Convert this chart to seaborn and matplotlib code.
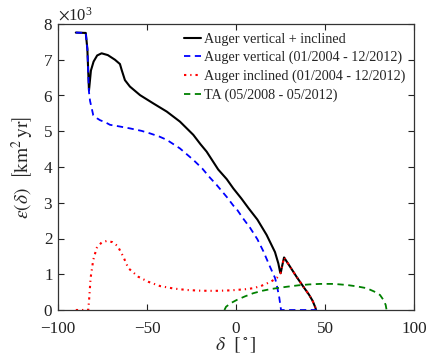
import numpy as np
import pandas as pd
import matplotlib
matplotlib.use("Agg")
import matplotlib.pyplot as plt
import seaborn as sns
from matplotlib.ticker import ScalarFormatter

# ---- data (declination in degrees, exposure in km^2 yr) ----
total_dec = [-90, -84.4, -83.5, -82.6, -81.5, -80, -78, -75.5, -72, -68, -65.2, -64.2,
             -62.4, -59.6, -53.9, -46.5, -38.9, -31.5, -24, -20, -16.5, -10, -5.2, -1.5,
             3, 7, 12, 17.2, 21.9, 23.8, 24.7, 25.1, 26, 27, 30, 34, 38, 41, 43, 44.5, 45]
total_val = [7760, 7750, 7300, 6140, 6700, 6950, 7120, 7180, 7130, 7000, 6880, 6710,
             6430, 6250, 6010, 5780, 5550, 5270, 4900, 4640, 4430, 3930, 3660, 3400,
             3120, 2850, 2530, 2100, 1620, 1300, 1080, 1030, 1250, 1470, 1240, 930, 640,
             430, 260, 80, 0]

vert_dec = [-90, -84.4, -83.5, -82.6, -82, -80.2, -78, -76.4, -73, -70.8, -65, -59.6,
            -53, -48.3, -43, -38.9, -31.5, -24, -19, -14.6, -10.9, -5, -1.5, 0, 4, 7.9,
            12, 15.3, 19.1, 21.9, 22.9, 24.3, 25.3, 30, 35, 40, 45.3]
vert_val = [7760, 7750, 7300, 6100, 5850, 5450, 5360, 5310, 5240, 5180, 5130, 5080,
            5010, 4940, 4850, 4760, 4520, 4200, 3960, 3700, 3500, 3150, 2920, 2850,
            2560, 2300, 1980, 1650, 1210, 900, 700, 350, 0, 0, 0, 0, 0]

incl_dec = [-90, -83, -82.4, -81.7, -80.2, -78.3, -75.5, -72.7, -69.5, -66.5, -63.3,
            -60.5, -54.9, -49.3, -42.7, -35, -27.7, -20, -12, -5, 0, 5, 9.7, 14, 19.5,
            23, 25, 27, 30, 34, 38, 41, 43, 44.5, 45]
incl_val = [0, 0, 370, 890, 1400, 1730, 1890, 1930, 1900, 1790, 1490,
            1170, 930, 790, 670, 600, 560, 540, 535, 545, 560, 580, 610, 670, 790,
            900, 1030, 1470, 1240, 930, 640, 430, 260, 80, 0]

ta_dec = [-6.5, -5.6, -3, 0.4, 5, 9.7, 15, 20, 28.5, 35, 41, 47.2, 55, 62.2, 68, 73.4,
          77.5, 80.9, 83, 84.1, 84.6]
ta_val = [0, 90, 190, 280, 380, 470, 540, 590, 650, 690, 715, 730, 730, 700, 660, 610,
          520, 420, 270, 140, 0]

labels = ["Auger vertical + inclined",
          "Auger vertical (01/2004 - 12/2012)",
          "Auger inclined (01/2004 - 12/2012)",
          "TA (05/2008 - 05/2012)"]

sns.set_style("ticks")
plt.rcParams["font.family"] = ["Liberation Serif", "DejaVu Serif"]
plt.rcParams["mathtext.fontset"] = "stix"
plt.rcParams["axes.unicode_minus"] = True

fig = plt.figure(figsize=(4.28, 3.58), dpi=100)
ax = fig.add_axes([58/428, 48/358, 356/428, 286/358])

series = [
    (total_dec, total_val, labels[0], "#000000", "-", 1.5),
    (vert_dec, vert_val, labels[1], "#0000ff", (0, (3.5, 2.5)), 1.3),
    (incl_dec, incl_val, labels[2], "#ff0000", (0, (1.1, 1.9, 0.6, 1.9)), 1.5),
    (ta_dec, ta_val, labels[3], "#008000", (0, (3.5, 2.5)), 1.3),
]
for xs, ys, lab, col, ls, lw in series:
    df = pd.DataFrame({"dec": xs, "exp": ys})
    sns.lineplot(data=df, x="dec", y="exp", ax=ax, color=col, linestyle=ls,
                 linewidth=lw, label=lab, estimator=None, sort=False)

ax.set_xlim(-100, 100)
ax.set_ylim(0, 8000)
ax.set_xticks([-100, -50, 0, 50, 100])
ax.set_yticks(np.arange(0, 8001, 1000))
fmt = ScalarFormatter(useMathText=True)
fmt.set_powerlimits((3, 3))
ax.yaxis.set_major_formatter(fmt)
ax.yaxis.get_offset_text().set_fontsize(12)

ax.tick_params(direction="in", top=True, right=True, length=4, width=0.8,
               labelsize=12.3, colors="#222222", labelcolor="#222222")
ax.tick_params(axis="x", pad=8)
for s in ax.spines.values():
    s.set_linewidth(0.9)
    s.set_color("#333333")

ax.set_xlabel(r"$\delta\ \ [^\circ]$", fontsize=14, labelpad=-1)
ax.set_ylabel(r"$\epsilon(\delta)\ \ \left[\mathrm{km}^2\,\mathrm{yr}\right]$", fontsize=14, labelpad=5)

leg = ax.legend(loc="upper right", frameon=False, fontsize=10.2, handlelength=1.2,
                handletextpad=0.25, labelspacing=0.38, borderaxespad=0.2,
                bbox_to_anchor=(1.0, 1.0))

fig.savefig("out.png", dpi=100)
